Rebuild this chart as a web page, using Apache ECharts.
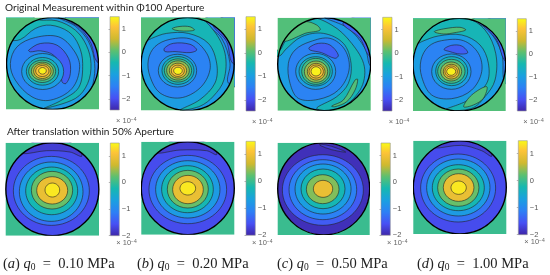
<!DOCTYPE html>
<html><head><meta charset="utf-8">
<style>html,body{margin:0;padding:0;background:#fff}#c{width:550px;height:275px;filter:blur(.3px)}</style>
<script src="https://cdn.jsdelivr.net/npm/echarts@6/dist/echarts.min.js"></script>
</head><body><div id="c"></div>
<script>
// Readings. Contour coordinates are in each panel's own frame (see frames below).
const titles = ['Original Measurement within \u03A6100 Aperture', 'After translation within 50% Aperture'];
const captionLetters = ['a', 'b', 'c', 'd'];
const captionValues = ['0.10', '0.20', '0.50', '1.00'];
const tickValues = [-2, -1, 0, 1];
const topScale = [-2.47, 1.53];
const bottomScale = [-2, 1.48];
const apertureLevel = 0; // value of the area outside the aperture

const frames = [
  [17,296,52,328],[423,703,52,333],[8,287,53,332],[414,692,55,333],
  [17,297,14,293],[424,703,11,290],[8,284,14,291],[415,694,8,288]];

// [level, xmin, xmax, ymin, ymax]
const ringsA = [[-1,64,190,160,268],[-.55,78,175,172,255],[-.1,85,166,180,247],[.3,93,159,186,240],[.75,100,152,191,235],[1.05,106,146,196,229],[1.45,115,138,202,222]];
const ringsB = [[-1,475,590,163,262],[-.55,486,582,170,254],[-.1,493,575,177,247],[.3,500,568,183,241],[.75,508,560,190,235],[1.05,514,553,196,230],[1.45,521,547,202,224]];
const ringsC = [[-1,62,182,160,268],[-.55,72,172,170,258],[-.1,80,165,175,253],[.3,88,158,183,247],[.75,97,150,190,240],[1.05,102,145,195,234],[1.45,108,138,200,228]];
const ringsD = [[-1,470,588,162,268],[-.55,482,578,170,257],[-.1,488,570,178,250],[.3,497,560,186,243],[.75,505,553,193,237],[1.05,510,547,198,231],[1.45,515,542,203,226]];
const ringsE = [[-1.25,40,268,55,262],[-.75,58,249,72,250],[-.25,77,233,87,230],[.25,94,218,100,213],[.9,110,203,116,198],[1.35,135,179,135,177]];
const ringsF = [[-1.25,447,680,52,257],[-.75,467,660,68,240],[-.25,485,640,83,224],[.25,502,625,97,210],[.9,518,610,112,197],[1.35,540,587,131,171]];
const ringsG = [[-1.45,22,265,50,262],[-1.1,42,245,65,245],[-.7,60,228,78,228],[-.25,78,210,93,212],[.35,94,192,110,197],[.9,115,173,127,178]];
const ringsH = [[-1.25,437,662,48,252],[-.75,455,645,63,234],[-.25,472,628,80,218],[.25,488,612,93,205],[.9,505,597,107,190],[1.35,528,574,129,169]];

// [level, x, y, x, y, ...]
const blobsA = [
  [-1.4,175,50,225,78,265,125,283,190,278,250,262,290,330,300,330,40],
  [-1.8,195,52,240,85,272,130,290,185,330,190,330,30],
  [-.5,90,40,108,58,170,62,225,90,258,135,272,190,262,250,225,295,130,325,180,302,235,262,247,190,235,135,205,95,150,75,105,85,60,118,20,122,0,125,0,40],
  [-1.4,105,112,175,110,220,150,238,200,215,265,150,300,95,290,45,240,30,190,50,140],
  [-1.8,85,150,120,130,170,135,205,175,210,220,197,250,185,245,180,200,160,165,120,152,90,155]];
const blobsB = [
  [-1.4,610,58,665,115,690,190,685,250,740,260,740,40],
  [-1.8,640,70,680,125,698,190,740,190,740,40],
  [-.5,420,40,590,50,640,90,675,160,672,240,640,290,600,320,540,332,600,300,645,250,650,190,625,130,565,100,500,100,455,115,425,130,410,130],
  [-1.4,510,118,575,118,620,160,630,210,600,265,540,295,480,280,450,230,445,180,465,140],
  [-1.8,493,145,520,130,570,133,590,150,570,158,525,155,495,155],
  [0,517,85,540,79,570,80,583,90,550,93,525,90]];
const blobsC = [
  [-1.4,150,50,220,85,270,145,288,200,330,200,330,40],
  [-1.8,205,68,255,115,285,170,330,170,330,40],
  [-.5,0,150,15,150,30,125,100,55,170,75,230,130,268,200,255,270,190,328,125,325,185,290,220,250,228,190,205,130,145,100,80,110,30,150,18,165,0,170],
  [0,28,123,50,118,90,100,135,90,125,75,90,65,55,85,35,105],
  [0,170,318,205,300,240,240,248,238,240,270,215,305,180,320],
  [-1.4,40,190,60,150,105,125,165,115,210,150,222,210,190,270,130,298,70,295,45,250],
  [-1.8,102,143,130,130,165,135,190,165,180,175,140,158,105,150]];
const blobsD = [
  [-1.4,590,58,640,90,680,160,690,250,730,250,730,40],
  [-1.8,625,68,665,120,692,185,730,185,730,40],
  [-.5,410,40,575,55,630,90,662,160,660,240,630,290,590,325,510,330,580,300,635,250,640,190,615,135,560,105,490,108,440,125,420,135,405,135],
  [-1.4,500,122,565,122,610,160,620,215,590,270,530,296,470,285,440,230,438,180,460,140],
  [-1.8,507,148,530,136,560,138,578,158,555,162,525,155],
  [0,478,95,510,86,555,82,572,90,540,98,505,102],
  [0,566,320,590,285,635,260,625,295,595,315]];
const blobsE = [[-1.75,65,47,140,38,210,42,245,55,235,30,190,5,120,5,70,30]];
const blobsF = [[-1.75,470,45,540,36,620,38,650,50,640,25,590,5,530,5,480,25]];
const blobsG = [[-1.75,135,18,170,25,212,42,170,35,135,22]];
const blobsH = [[-1.75,475,30,560,22,620,38,650,55,640,25,590,0,530,0,480,15]];

const baseLevels = [-1,-1,-1,-1,-1.6,-1.6,-1.9,-1.6];
const allRings = [ringsA,ringsB,ringsC,ringsD,ringsE,ringsF,ringsG,ringsH];
const allBlobs = [blobsA,blobsB,blobsC,blobsD,blobsE,blobsF,blobsG,blobsH];

// Layout (page pixels): left, top, width, height
const panelBoxes = [[6,17.5,93,92],[141,17.5,93.3,93],[277.7,17.7,93,93],[413,18.3,92.7,92.7],
  [5.7,142.7,93.3,93],[141.3,141.7,93,93],[277.7,142.7,92,92.3],[413.3,140.7,93,93.3]];
const barBoxes = [[110,16.7,9.3,93.3],[246,16.7,9.3,94.3],[382.7,17.3,9.3,93.7],[517.3,18.7,9,92.3],
  [110.3,143,9,92.7],[246,141.3,9.3,94],[381,143,9.3,92.3],[518.3,140.7,9,94]];
const captionX = [3,137,277,417];

const parula = [[0,'#3e26a8'],[.127,'#4750f4'],[.254,'#2d80f5'],[.38,'#1aa0e0'],[.51,'#16b8b0'],[.635,'#5cc070'],[.76,'#cfb92f'],[.89,'#fdc338'],[1,'#f9fb15']];
function hex(c){return [1,3,5].map(i=>parseInt(c.substr(i,2),16));}
function colorAt(t){
  t=Math.max(0,Math.min(1,t));
  for(let i=1;i<parula.length;i++){
    if(t<=parula[i][0]){
      const a=parula[i-1],b=parula[i],f=(t-a[0])/(b[0]-a[0]),A=hex(a[1]),B=hex(b[1]);
      return 'rgb('+A.map((v,k)=>Math.round(v+(B[k]-v)*f)).join(',')+')';
    }
  }
  return parula[parula.length-1][1];
}
const LINE={stroke:'#222',lineWidth:.6};
const grids=[],xAxes=[],yAxes=[],series=[],graphics=[];

panelBoxes.forEach((b,i)=>{
  const f=frames[i],scale=i<4?topScale:bottomScale;
  const col=v=>colorAt((v-scale[0])/(scale[1]-scale[0]));
  grids.push({left:b[0],top:b[1],width:b[2],height:b[3]});
  xAxes.push({gridIndex:i,type:'value',show:false,min:f[0],max:f[1]});
  yAxes.push({gridIndex:i,type:'value',show:false,min:f[2],max:f[3],inverse:true});
  series.push({type:'custom',xAxisIndex:i,yAxisIndex:i,silent:true,clip:true,animation:false,data:[[0]],
    renderItem(p,api){
      const P=(x,y)=>api.coord([x,y]);
      const tl=P(f[0],f[2]),br=P(f[1],f[3]);
      const cx=(tl[0]+br[0])/2,cy=(tl[1]+br[1])/2,R=Math.min(br[0]-tl[0],br[1]-tl[1])/2;
      const kids=[{type:'circle',shape:{cx,cy,r:R},style:{fill:col(baseLevels[i])}}];
      allBlobs[i].forEach(bl=>{
        const pts=[];for(let k=1;k<bl.length;k+=2)pts.push(P(bl[k],bl[k+1]));
        kids.push({type:'polygon',shape:{points:pts,smooth:.35},style:Object.assign({fill:col(bl[0])},LINE)});
      });
      allRings[i].forEach(r=>{
        const a=P(r[1],r[3]),c=P(r[2],r[4]);
        kids.push({type:'ellipse',shape:{cx:(a[0]+c[0])/2,cy:(a[1]+c[1])/2,rx:(c[0]-a[0])/2,ry:(c[1]-a[1])/2},style:Object.assign({fill:col(r[0])},LINE)});
      });
      const hole=[[tl[0],tl[1]],[br[0],tl[1]],[br[0],br[1]],[tl[0],br[1]],[tl[0],cy]];
      for(let k=0;k<=180;k++){const t=Math.PI+ k/180*2*Math.PI*-1;hole.push([cx+R*Math.cos(t),cy+R*Math.sin(t)]);}
      hole.push([tl[0],cy]);
      kids.push({type:'polygon',shape:{points:hole},style:{fill:col(apertureLevel)}});
      kids.push({type:'circle',shape:{cx,cy,r:R},style:{fill:'none',stroke:'#000',lineWidth:1.4}});
      return {type:'group',children:kids};
    }});
});
barBoxes.forEach((b,j)=>{
  const i=8+j,scale=j<4?topScale:bottomScale;
  grids.push({left:b[0],top:b[1],width:b[2],height:b[3]});
  xAxes.push({gridIndex:i,type:'value',show:false,min:0,max:1});
  yAxes.push({gridIndex:i,type:'value',position:'right',min:scale[0],max:scale[1],
    axisLine:{show:false},splitLine:{show:false},
    axisTick:{show:true,inside:true,length:1.5,customValues:tickValues,lineStyle:{color:'#666',width:.5}},
    axisLabel:{margin:2.5,fontSize:7.5,color:'#555',fontFamily:'Liberation Sans',customValues:tickValues,formatter:v=>String(v).replace('-','\u2212')}});
  series.push({type:'custom',xAxisIndex:i,yAxisIndex:i,silent:true,animation:false,z:1,data:[[0]],
    renderItem(p,api){
      const a=api.coord([0,scale[1]]),c=api.coord([1,scale[0]]);
      return {type:'rect',shape:{x:a[0],y:a[1],width:c[0]-a[0],height:c[1]-a[1]},
        style:{stroke:'#999',lineWidth:.6,fill:new echarts.graphic.LinearGradient(0,1,0,0,parula.map(s=>({offset:s[0],color:s[1]})))}};
    }});
  graphics.push({type:'text',left:b[0]+6,top:b[1]+b[3]+(j<4?7:3.5),style:{text:'{a|\u00D7 10}{s|\u22124}',
    rich:{a:{fontSize:7.5,fill:'#666',fontFamily:'Liberation Sans'},s:{fontSize:5,fill:'#666',fontFamily:'Liberation Sans',verticalAlign:'top',padding:[0,0,3,0]}}}});
});
const titleOpts=[
  {text:titles[0],left:5,top:2.5,textStyle:{fontFamily:'Lato',fontWeight:'normal',fontSize:10.1,color:'#222'},padding:0},
  {text:titles[1],left:7,top:126.5,textStyle:{fontFamily:'Lato',fontWeight:'normal',fontSize:10.1,color:'#222'},padding:0}];
captionLetters.forEach((l,i)=>{
  titleOpts.push({left:captionX[i],top:257,padding:0,text:`{r|(}{i|${l}}{r|) }{i|q}{s|0}{r|  =  ${captionValues[i]} MPa}`,
    textStyle:{rich:{
      r:{fontFamily:'Liberation Serif',fontWeight:'normal',fontSize:14.5,color:'#222'},
      i:{fontFamily:'Liberation Serif',fontWeight:'normal',fontStyle:'italic',fontSize:14.5,color:'#222'},
      s:{fontFamily:'Liberation Serif',fontWeight:'normal',fontSize:9.5,color:'#222',verticalAlign:'bottom',lineHeight:8}}}});
});
const chart=echarts.init(document.getElementById('c'),null,{renderer:'canvas',width:550,height:275});
chart.setOption({animation:false,backgroundColor:'#fff',title:titleOpts,grid:grids,xAxis:xAxes,yAxis:yAxes,series,graphic:graphics});
</script></body></html>
